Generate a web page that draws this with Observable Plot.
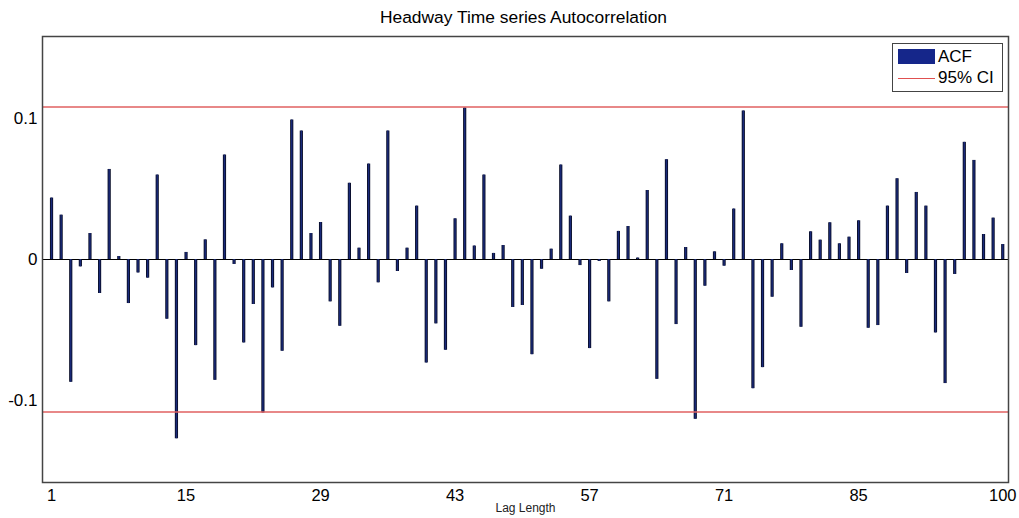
<!DOCTYPE html>
<html>
<head>
<meta charset="utf-8">
<script src="https://cdn.jsdelivr.net/npm/d3@7"></script>
<script src="https://cdn.jsdelivr.net/npm/@observablehq/plot@0.6"></script>
<style>
  html, body { margin: 0; padding: 0; background: #fff; }
  #wrap { position: relative; width: 1019px; height: 518px; font-family: Arial, "Liberation Sans", sans-serif; }
  #title { position: absolute; left: 0; width: 1047px; top: 7px; text-align: center; font-size: 17.4px; color: #000; }
  #legend { position: absolute; left: 892px; top: 43px; width: 111px; height: 49px; border: 1px solid #444; background: #fff; box-sizing: border-box; }
  .lg-row { position: absolute; left: 5px; height: 20px; font-size: 17px; line-height: 20px; color: #000; }
  .sw { position: absolute; left: 0; width: 37px; }
  .lbl { position: absolute; left: 40px; white-space: nowrap; }
</style>
</head>
<body>
<div id="wrap">
  <div id="chart"></div>
  <div id="title">Headway Time series Autocorrelation</div>
  <div id="legend">
    <div class="lg-row" style="top:3px"><div class="sw" style="top:2px;height:15px;background:#15268a;"></div><div class="lbl">ACF</div></div>
    <div class="lg-row" style="top:24px"><div class="sw" style="top:10px;height:0;border-top:1px solid #e05050;"></div><div class="lbl">95% CI</div></div>
  </div>
</div>
<script>
const lags = d3.range(1, 101);
const acf = [
  0.0435, 0.0314, -0.0870, -0.0052, 0.0184, -0.0241, 0.0638, 0.0021, -0.0312, -0.0095,
  -0.0132, 0.0598, -0.0423, -0.1270, 0.0050, -0.0610, 0.0139, -0.0856, 0.0740, -0.0035,
  -0.0591, -0.0319, -0.1087, -0.0201, -0.0650, 0.0988, 0.0910, 0.0184, 0.0262, -0.0300,
  -0.0473, 0.0540, 0.0080, 0.0676, -0.0165, 0.0910, -0.0085, 0.0080, 0.0378, -0.0733,
  -0.0456, -0.0643, 0.0288, 0.1073, 0.0095, 0.0598, 0.0043, 0.0099, -0.0340, -0.0326,
  -0.0674, -0.0069, 0.0073, 0.0669, 0.0307, -0.0043, -0.0631, -0.0014, -0.0300, 0.0199,
  0.0234, 0.0010, 0.0489, -0.0849, 0.0707, -0.0461, 0.0085, -0.1132, -0.0189, 0.0054,
  -0.0047, 0.0357, 0.1052, -0.0915, -0.0766, -0.0267, 0.0111, -0.0078, -0.0480, 0.0196,
  0.0137, 0.0260, 0.0111, 0.0158, 0.0274, -0.0487, -0.0468, 0.0378, 0.0572, -0.0099,
  0.0475, 0.0378, -0.0520, -0.0879, -0.0106, 0.0830, 0.0702, 0.0177, 0.0293, 0.0106
];
const ciBounds = [0.108, -0.108];
const xTicks = [1, 15, 29, 43, 57, 71, 85, 100];
const yTicks = [-0.1, 0, 0.1];
const yTickLabels = ["-0.1", "0", "0.1"];

const data = lags.map((lag, i) => ({lag, acf: acf[i]}));

const chart = Plot.plot({
  width: 1019,
  height: 518,
  marginTop: 36,
  marginBottom: 36,
  marginLeft: 42,
  marginRight: 11,
  style: {fontFamily: "Arial, 'Liberation Sans', sans-serif", background: "#fff"},
  x: {domain: [0.06, 100.6]},
  y: {domain: [-0.158, 0.158]},
  marks: [
    Plot.ruleY([0], {stroke: "#000", strokeWidth: 1.2}),
    Plot.ruleX(data, {x: "lag", y1: 0, y2: "acf", stroke: "#0a0f2a", strokeWidth: 3.2}),
    Plot.ruleX(data, {x: "lag", y1: 0, y2: "acf", stroke: "#1a2a7a", strokeWidth: 1.4}),
    Plot.ruleY(ciBounds, {stroke: "#e06060", strokeWidth: 1.6}),
    Plot.frame({stroke: "#444", strokeWidth: 1.5}),
    Plot.axisX({ticks: xTicks, tickSize: 0, tickPadding: 7, fontSize: 16.5, label: null}),
    Plot.axisY({ticks: yTicks, tickFormat: (d) => yTickLabels[yTicks.indexOf(d)], tickSize: 0, tickPadding: 5, fontSize: 17, label: null}),
    Plot.text(["Lag Length"], {frameAnchor: "bottom", dy: 29, fontSize: 12, fill: "#222"})
  ]
});
document.getElementById("chart").appendChild(chart);
</script>
</body>
</html>
